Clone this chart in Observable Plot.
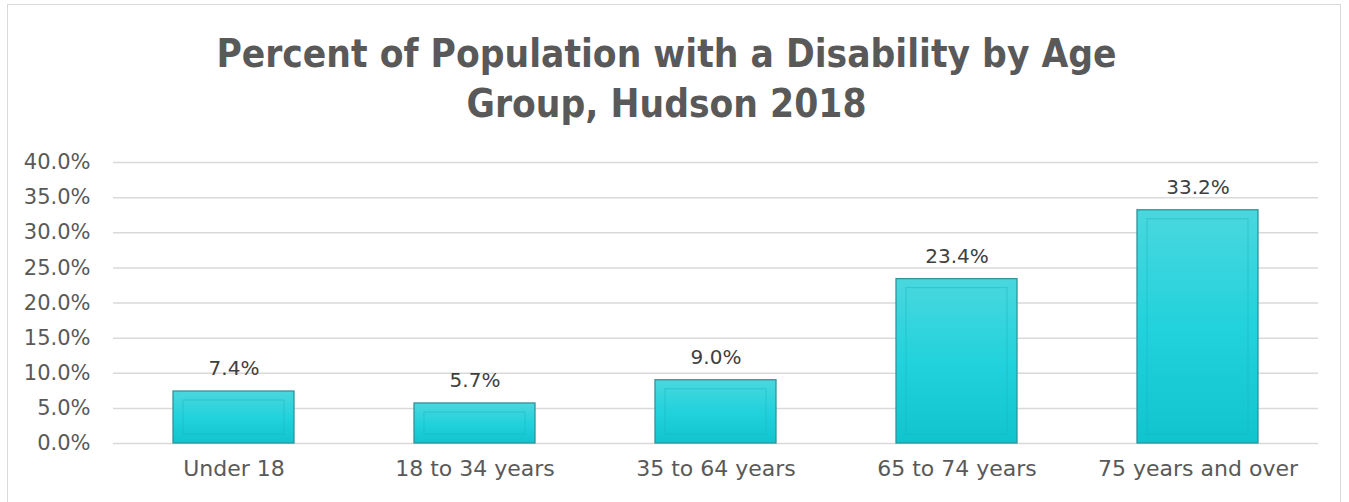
<!DOCTYPE html>
<html>
<head>
<meta charset="utf-8">
<script src="https://cdn.jsdelivr.net/npm/d3@7"></script>
<script src="https://cdn.jsdelivr.net/npm/@observablehq/plot@0.6"></script>
<style>
  html, body { margin: 0; padding: 0; background: #fff; }
  #frame { position: absolute; left: 7px; top: 4px; width: 1334px; height: 520px; border: 1.5px solid #d9d9d9; box-sizing: border-box; }
  #title { position: absolute; left: -8px; top: 29px; width: 1349px; text-align: center; font-family: "DejaVu Sans Condensed", "DejaVu Sans", sans-serif; font-stretch: condensed; font-weight: bold; font-size: 38.5px; line-height: 50px; color: #595959; }
  #chart { position: absolute; left: 0; top: 140px; }
</style>
</head>
<body>
<div id="frame"></div>
<div id="title">Percent of Population with a Disability by Age<br>Group, Hudson 2018</div>
<div id="chart"></div>
<script>
const categories = ["Under 18", "18 to 34 years", "35 to 64 years", "65 to 74 years", "75 years and over"];
const values = [7.4, 5.7, 9.0, 23.4, 33.2];
const yTicks = [0, 5, 10, 15, 20, 25, 30, 35, 40];

const data = categories.map((c, i) => ({category: c, value: values[i]}));
const fontFamily = "'DejaVu Sans', sans-serif";

const plot = Plot.plot({
  width: 1349,
  height: 362,
  marginLeft: 113,
  marginRight: 31,
  marginTop: 22,
  marginBottom: 59,
  style: {fontFamily, fontSize: "21px", color: "#595959", background: "transparent"},
  x: {domain: categories, paddingInner: 0.5, paddingOuter: 0.25, label: null},
  y: {domain: [0, 40], label: null},
  marks: [
    Plot.ruleY(yTicks, {stroke: "#d9d9d9", strokeWidth: 1.5}),
    Plot.barY(data, {x: "category", y: "value", fill: "url(#barGrad)", stroke: "#2f949b", strokeWidth: 1.3}),
    Plot.barY(data, {x: "category", y: "value", fill: "none", stroke: "#19b3bd", strokeOpacity: 0.5, strokeWidth: 1, insetLeft: 10, insetRight: 10, insetTop: 9, insetBottom: 9}),
    Plot.text(data, {x: "category", y: "value", text: d => d.value.toFixed(1) + "%", dy: -23, fill: "#404040", fontSize: 20}),
    Plot.axisX({tickSize: 0, tickPadding: 17, fontSize: 22, label: null}),
    Plot.axisY({ticks: yTicks, tickSize: 0, tickPadding: 23, fontSize: 21, label: null, tickFormat: d => d.toFixed(1) + "%"})
  ]
});

const defs = d3.select(plot).insert("defs", ":first-child");
const g = defs.append("linearGradient").attr("id", "barGrad").attr("x1", 0).attr("y1", 0).attr("x2", 0).attr("y2", 1);
g.append("stop").attr("offset", "0%").attr("stop-color", "#4ad7de");
g.append("stop").attr("offset", "50%").attr("stop-color", "#22d2dc");
g.append("stop").attr("offset", "100%").attr("stop-color", "#10c4ce");

document.getElementById("chart").appendChild(plot);
</script>
</body>
</html>
